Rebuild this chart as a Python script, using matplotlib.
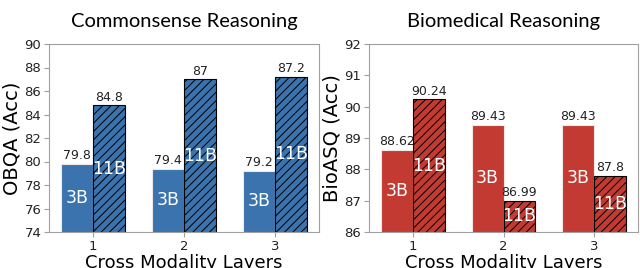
import matplotlib
matplotlib.use("Agg")
import matplotlib.pyplot as plt
import numpy as np

layers = [1, 2, 3]
obqa_3b = [79.8, 79.4, 79.2]
obqa_11b = [84.8, 87.0, 87.2]
obqa_labels_3b = ["79.8", "79.4", "79.2"]
obqa_labels_11b = ["84.8", "87", "87.2"]
bio_3b = [88.62, 89.43, 89.43]
bio_11b = [90.24, 86.99, 87.8]
bio_labels_3b = ["88.62", "89.43", "89.43"]
bio_labels_11b = ["90.24", "86.99", "87.8"]

plt.rcParams['font.family'] = ['DejaVu Sans']
plt.rcParams['hatch.linewidth'] = 0.7

fig = plt.figure(figsize=(6.4, 2.68), dpi=100)
ax1 = fig.add_axes([49/640, 1-232/268, (319-49)/640, (232-44)/268])
ax2 = fig.add_axes([369/640, 1-232/268, (638-369)/640, (232-44)/268])

w = 0.35
def panel(ax, v3, v11, l3, l11, color, ylim, yticks, ylabel, title):
    x = np.array(layers, dtype=float)
    ax.bar(x - w/2, v3, w, color=color, edgecolor='#f2e6e6', linewidth=0.8)
    ax.bar(x + w/2, v11, w, color=color, edgecolor='black', linewidth=0.8, hatch='////')
    ax.set_ylim(*ylim)
    ax.set_yticks(yticks)
    ax.set_xticks(layers)
    off = (ylim[1] - ylim[0]) * 0.008
    for xi, v, s in zip(x - w/2, v3, l3):
        ax.text(xi, v + off, s, ha='center', va='bottom', fontsize=9, color='#222222')
        ax.text(xi, (ylim[0] + v)/2, "3B", ha='center', va='center', fontsize=12.5, color='white')
    for xi, v, s in zip(x + w/2, v11, l11):
        ax.text(xi, v + off, s, ha='center', va='bottom', fontsize=9, color='#222222')
        ax.text(xi, (ylim[0] + v)/2, "11B", ha='center', va='center', fontsize=12.5, color='white')
    ax.set_ylabel(ylabel, fontsize=14, labelpad=2)
    ax.set_xlabel("Cross Modality Layers", fontsize=13, labelpad=1)
    ax.set_title(title, fontsize=14.5, pad=12, family=['Lato', 'DejaVu Sans'])
    for sp in ax.spines.values():
        sp.set_color('#a0a0a0')
    ax.tick_params(colors='#a0a0a0', labelcolor='#222222', labelsize=9.5, length=3.5, pad=2)

panel(ax1, obqa_3b, obqa_11b, obqa_labels_3b, obqa_labels_11b, '#3a73ad', (74, 90),
      [74, 76, 78, 80, 82, 84, 86, 88, 90], "OBQA (Acc)", "Commonsense Reasoning")
panel(ax2, bio_3b, bio_11b, bio_labels_3b, bio_labels_11b, '#c23a31', (86, 92),
      [86, 87, 88, 89, 90, 91, 92], "BioASQ (Acc)", "Biomedical Reasoning")

fig.savefig("out.png", dpi=100)
